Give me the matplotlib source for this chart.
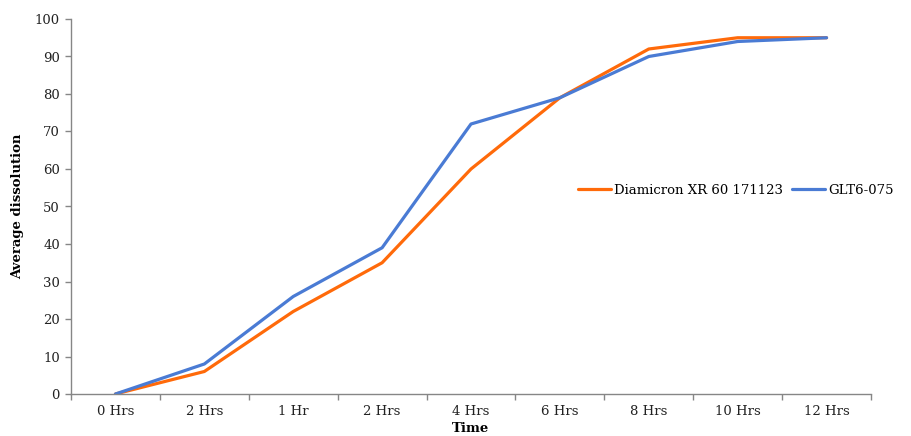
import matplotlib
matplotlib.use("Agg")
import matplotlib.pyplot as plt
import numpy as np

categories = ["0 Hrs", "2 Hrs", "1 Hr", "2 Hrs", "4 Hrs", "6 Hrs", "8 Hrs", "10 Hrs", "12 Hrs"]
diamicron = [0, 6, 22, 35, 60, 79, 92, 95, 95]
glt = [0, 8, 26, 39, 72, 79, 90, 94, 95]
series_names = ["Diamicron XR 60 171123", "GLT6-075"]

plt.rcParams['font.family'] = ['DejaVu Serif']

fig = plt.figure(figsize=(9.11, 4.36), dpi=100)
ax = fig.add_axes([71/911, 1-394/436, 800/911, 375/436])

x = np.arange(len(categories))
ax.plot(x, diamicron, color="#FF6A0A", lw=2.3, label=series_names[0], solid_capstyle="round")
ax.plot(x, glt, color="#4A7BD4", lw=2.3, label=series_names[1], solid_capstyle="round")

ax.set_xlim(-0.5, len(categories) - 0.5)
ax.set_ylim(0, 100)
ax.set_yticks(range(0, 101, 10))
ax.set_xticks(x)
ax.set_xticklabels(categories)
ax.set_xticks(np.arange(-0.5, len(categories), 1), minor=True)
ax.tick_params(axis="x", which="major", length=0, labelsize=9.5, colors="#222222", pad=8)
ax.tick_params(axis="x", which="minor", length=4, color="#868686", width=1)
ax.tick_params(axis="y", length=4, color="#868686", width=1, labelsize=9.5, labelcolor="#222222", pad=4)

for s in ["top", "right"]:
    ax.spines[s].set_visible(False)
for s in ["left", "bottom"]:
    ax.spines[s].set_color("#868686")
    ax.spines[s].set_linewidth(1)

ax.set_xlabel("Time", fontsize=9.5, fontweight="bold", labelpad=3)
ax.set_ylabel("Average dissolution", fontsize=9.5, fontweight="bold", labelpad=8)

leg = fig.legend(loc="center left", bbox_to_anchor=(573/911, 1-190/436), ncol=2, frameon=False,
                 fontsize=9.5, handlelength=2.5, handletextpad=0.2, columnspacing=0.7, borderaxespad=0)

fig.savefig("out.png", dpi=100)
